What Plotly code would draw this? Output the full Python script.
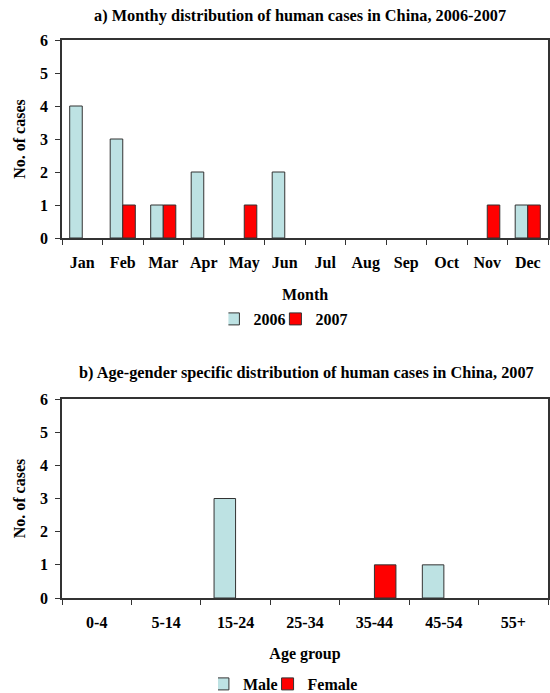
import plotly.graph_objects as go
from plotly.subplots import make_subplots

months = ["Jan", "Feb", "Mar", "Apr", "May", "Jun", "Jul", "Aug", "Sep", "Oct", "Nov", "Dec"]
cases_2006 = [4, 3, 1, 2, 0, 2, 0, 0, 0, 0, 0, 1]
cases_2007 = [0, 1, 1, 0, 1, 0, 0, 0, 0, 0, 1, 1]

age_groups = ["0-4", "5-14", "15-24", "25-34", "35-44", "45-54", "55+"]
male = [0, 0, 3, 0, 0, 1, 0]
female = [0, 0, 0, 0, 1, 0, 0]

y_ticks = [0, 1, 2, 3, 4, 5, 6]

BLUE = "#BDE2E3"
RED = "#FF0000"
EDGE = "#333333"
FONT = "Liberation Serif"


def nz(vals):
    # zero-count bars are not drawn (no outline at the baseline)
    return [v if v else None for v in vals]


fig = make_subplots(rows=2, cols=1)

fig.add_trace(go.Bar(x=months, y=nz(cases_2006), name="<b>2006</b>",
                     marker=dict(color=BLUE, line=dict(color=EDGE, width=1)), legend="legend"), row=1, col=1)
fig.add_trace(go.Bar(x=months, y=nz(cases_2007), name="<b>2007</b>",
                     marker=dict(color=RED, line=dict(color=EDGE, width=1)), legend="legend"), row=1, col=1)
fig.add_trace(go.Bar(x=age_groups, y=nz(male), name="<b>Male</b>",
                     marker=dict(color=BLUE, line=dict(color=EDGE, width=1)), legend="legend2"), row=2, col=1)
fig.add_trace(go.Bar(x=age_groups, y=nz(female), name="<b>Female</b>",
                     marker=dict(color=RED, line=dict(color=EDGE, width=1)), legend="legend2"), row=2, col=1)

H = 693.0
def py(px):
    return 1 - px / H

axis_common = dict(showline=True, linecolor=EDGE, linewidth=1.5, mirror=True, ticks="outside",
                   tickcolor=EDGE, ticklen=5, showgrid=False, zeroline=False, automargin=False,
                   tickfont=dict(family=FONT, size=16, color="black"))

ytitle = dict(text="<b>No. of cases</b>", font=dict(family=FONT, size=16), standoff=10)

fig.update_layout(
    width=550, height=693,
    margin=dict(l=62, r=2, t=0, b=0, autoexpand=False),
    plot_bgcolor="white", paper_bgcolor="white",
    barmode="group",
    font=dict(family=FONT, color="black"),
    xaxis=dict(domain=[0, 1], tickson="boundaries", ticklabelstandoff=9,
               title=dict(text="<b>Month</b>", font=dict(family=FONT, size=16), standoff=18), **axis_common),
    yaxis=dict(domain=[py(238), py(40)], range=[0, 6], tickvals=y_ticks, ticktext=[f"<b>{v}</b>" for v in y_ticks],
               ticklabelstandoff=4, title=ytitle, **axis_common),
    xaxis2=dict(domain=[0, 1], tickson="boundaries", ticklabelstandoff=9,
                title=dict(text="<b>Age group</b>", font=dict(family=FONT, size=16), standoff=18), **axis_common),
    yaxis2=dict(domain=[py(598), py(399)], range=[0, 6], tickvals=y_ticks, ticktext=[f"<b>{v}</b>" for v in y_ticks],
                ticklabelstandoff=4, title=ytitle, **axis_common),
    bargap=0.38,
    legend=dict(orientation="h", x=0.47, xanchor="center", y=py(319), yanchor="middle",
                font=dict(family=FONT, size=16), itemwidth=30, indentation=-15, tracegroupgap=0,
                bgcolor="rgba(0,0,0,0)"),
    legend2=dict(orientation="h", x=0.47, xanchor="center", y=py(684), yanchor="middle",
                 font=dict(family=FONT, size=16), itemwidth=30, indentation=-15, tracegroupgap=0,
                 bgcolor="rgba(0,0,0,0)"),
    showlegend=True,
)

fig.update_xaxes(tickvals=months, ticktext=[f"<b>{m}</b>" for m in months], row=1, col=1)
fig.update_xaxes(tickvals=age_groups, ticktext=[f"<b>{a}</b>" for a in age_groups], row=2, col=1)

fig.add_annotation(text="<b>a) Monthy distribution of human cases in China, 2006-2007</b>", xref="paper", yref="paper",
                   x=0.49, y=py(15), xanchor="center", yanchor="middle", showarrow=False,
                   font=dict(family=FONT, size=16.3, color="black"))
fig.add_annotation(text="<b>b) Age-gender specific distribution of human cases in China, 2007</b>", xref="paper", yref="paper",
                   x=0.503, y=py(373), xanchor="center", yanchor="middle", showarrow=False,
                   font=dict(family=FONT, size=16.3, color="black"))

fig.write_html("out.html")
